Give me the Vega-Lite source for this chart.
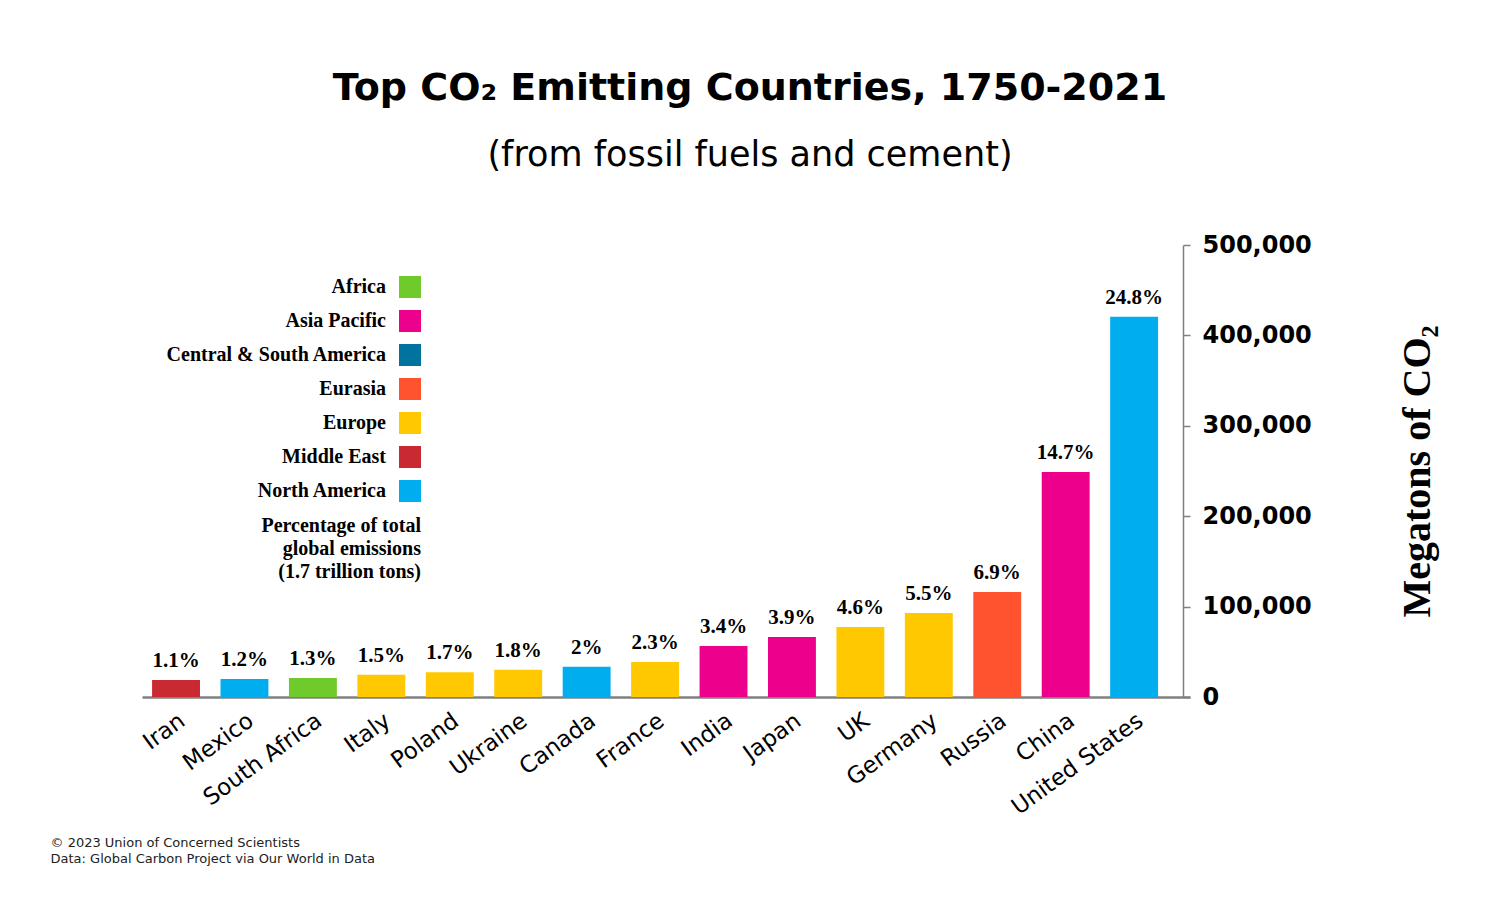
{
  "$schema": "https://vega.github.io/schema/vega-lite/v6.json",
  "width": 1048,
  "height": 452,
  "autosize": {"type": "none"},
  "padding": {"left": 142, "top": 245, "right": 311, "bottom": 204},
  "background": "white",
  "config": {"view": {"stroke": null}},
  "title": {
    "text": "Top CO₂ Emitting Countries, 1750-2021",
    "subtitle": "(from fossil fuels and cement)",
    "font": "DejaVu Sans",
    "fontSize": 38,
    "fontWeight": "bold",
    "color": "black",
    "subtitleFont": "DejaVu Sans",
    "subtitleFontSize": 35,
    "subtitleColor": "black",
    "anchor": "middle",
    "dx": 84,
    "offset": 60,
    "subtitlePadding": 30
  },
  "data": {
    "values": [
      {"country": "Iran", "region": "Middle East", "emissions": 18800, "pct": "1.1%"},
      {"country": "Mexico", "region": "North America", "emissions": 20000, "pct": "1.2%"},
      {"country": "South Africa", "region": "Africa", "emissions": 21000, "pct": "1.3%"},
      {"country": "Italy", "region": "Europe", "emissions": 24500, "pct": "1.5%"},
      {"country": "Poland", "region": "Europe", "emissions": 27500, "pct": "1.7%"},
      {"country": "Ukraine", "region": "Europe", "emissions": 30200, "pct": "1.8%"},
      {"country": "Canada", "region": "North America", "emissions": 33400, "pct": "2%"},
      {"country": "France", "region": "Europe", "emissions": 38800, "pct": "2.3%"},
      {"country": "India", "region": "Asia Pacific", "emissions": 56500, "pct": "3.4%"},
      {"country": "Japan", "region": "Asia Pacific", "emissions": 66300, "pct": "3.9%"},
      {"country": "UK", "region": "Europe", "emissions": 77500, "pct": "4.6%"},
      {"country": "Germany", "region": "Europe", "emissions": 93000, "pct": "5.5%"},
      {"country": "Russia", "region": "Eurasia", "emissions": 116200, "pct": "6.9%"},
      {"country": "China", "region": "Asia Pacific", "emissions": 249000, "pct": "14.7%"},
      {"country": "United States", "region": "North America", "emissions": 420500, "pct": "24.8%"}
    ]
  },
  "encoding": {
    "x": {
      "field": "country",
      "type": "nominal",
      "sort": null,
      "scale": {"paddingInner": 0.3, "paddingOuter": 0.307, "align": 0.24},
      "axis": {
        "labelAngle": -36,
        "labelFont": "DejaVu Sans",
        "labelFontSize": 23,
        "labelColor": "black",
        "labelPadding": 12,
        "ticks": false,
        "domainColor": "#808080",
        "domainWidth": 2.5,
        "title": ["© 2023 Union of Concerned Scientists", "Data: Global Carbon Project via Our World in Data"],
        "titleFont": "DejaVu Sans",
        "titleFontSize": 13,
        "titleFontWeight": "normal",
        "titleColor": "#222222",
        "titleAnchor": "start",
        "titleAlign": "left",
        "titleBaseline": "top",
        "titleLineHeight": 16,
        "titleX": -92,
        "titleY": 139
      }
    },
    "y": {
      "field": "emissions",
      "type": "quantitative",
      "scale": {"domain": [0, 500000]},
      "axis": {
        "orient": "right",
        "offset": -7,
        "values": [0, 100000, 200000, 300000, 400000, 500000],
        "format": ",d",
        "grid": false,
        "labelFont": "DejaVu Sans",
        "labelFontWeight": "bold",
        "labelFontSize": 24,
        "labelColor": "black",
        "labelPadding": 12,
        "tickSize": 7,
        "tickColor": "#808080",
        "tickWidth": 1.5,
        "domainColor": "#808080",
        "domainWidth": 1.5,
        "title": "Megatons of CO₂",
        "titleFont": "Liberation Serif",
        "titleFontWeight": "bold",
        "titleFontSize": 40,
        "titleColor": "black",
        "titleAngle": 270,
        "titlePadding": 126
      }
    }
  },
  "layer": [
    {
      "mark": {"type": "bar"},
      "encoding": {
        "color": {
          "field": "region",
          "type": "nominal",
          "scale": {
            "domain": ["Africa", "Asia Pacific", "Central & South America", "Eurasia", "Europe", "Middle East", "North America"],
            "range": ["#6fca2c", "#ec008c", "#00739f", "#ff5330", "#ffc800", "#c92a32", "#00aeef"]
          },
          "legend": {
            "orient": "none",
            "legendX": 119,
            "legendY": 31,
            "padding": 0,
            "symbolType": "square",
            "symbolSize": 484,
            "symbolStrokeWidth": 0,
            "labelAlign": "right",
            "labelOffset": -35,
            "labelFont": "Liberation Serif",
            "labelFontWeight": "bold",
            "labelFontSize": 20,
            "labelColor": "black",
            "labelLimit": 400,
            "rowPadding": 12,
            "title": ["Percentage of total", "global emissions", "(1.7 trillion tons)"],
            "titleOrient": "bottom",
            "titleAnchor": "end",
            "titleAlign": "right",
            "titleFont": "Liberation Serif",
            "titleFontWeight": "bold",
            "titleFontSize": 20,
            "titleColor": "black",
            "titleLineHeight": 23,
            "titlePadding": 14,
            "titleLimit": 400
          }
        }
      }
    },
    {
      "mark": {"type": "text", "font": "Liberation Serif", "fontWeight": "bold", "fontSize": 21, "baseline": "bottom", "dy": -9, "color": "black"},
      "encoding": {"text": {"field": "pct"}}
    }
  ]
}
